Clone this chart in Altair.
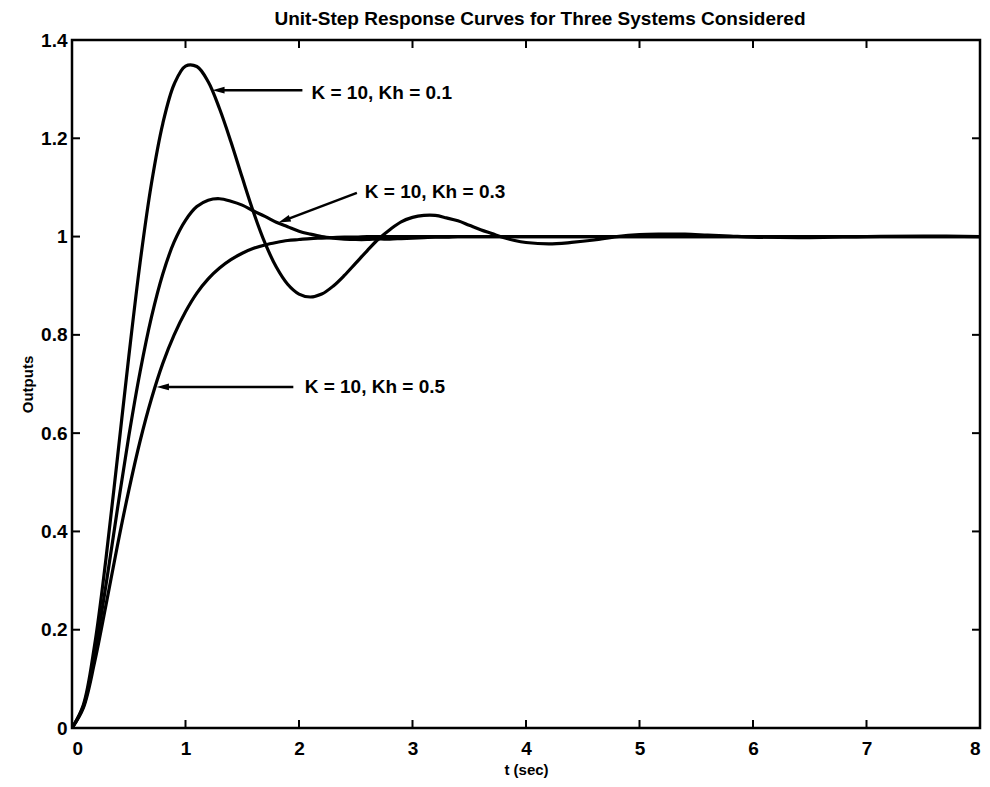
import altair as alt
import pandas as pd

# ---------------- data ----------------
t = [0.0, 0.1, 0.2, 0.3, 0.4, 0.5, 0.6, 0.7, 0.8, 0.9,
     1.0, 1.1, 1.2, 1.3, 1.4, 1.5, 1.6, 1.7, 1.8, 1.9,
     2.0, 2.1, 2.2, 2.3, 2.4, 2.5, 2.6, 2.7, 2.8, 2.9,
     3.0, 3.1, 3.2, 3.3, 3.4, 3.5, 3.6, 3.7, 3.8, 3.9,
     4.0, 4.2, 4.4, 4.6, 4.8, 5.0, 5.2, 5.4, 5.6, 5.8,
     6.0, 6.5, 7.0, 7.5, 8.0]

y_kh01 = [0.000, 0.047, 0.170, 0.346, 0.549, 0.755, 0.947, 1.108, 1.230, 1.310,
          1.347, 1.346, 1.315, 1.260, 1.193, 1.120, 1.049, 0.987, 0.938, 0.903,
          0.883, 0.877, 0.883, 0.899, 0.921, 0.946, 0.971, 0.995, 1.014, 1.030,
          1.039, 1.043, 1.043, 1.038, 1.032, 1.023, 1.014, 1.006, 0.998, 0.992,
          0.988, 0.985, 0.988, 0.993, 1.000, 1.004, 1.005, 1.005, 1.003, 1.001,
          0.999, 0.998, 1.000, 1.001, 1.000]

y_kh03 = [0.000, 0.044, 0.151, 0.292, 0.445, 0.593, 0.725, 0.836, 0.924, 0.989,
          1.033, 1.061, 1.074, 1.077, 1.072, 1.064, 1.052, 1.041, 1.029, 1.020,
          1.011, 1.005, 1.000, 0.997, 0.995, 0.994, 0.994, 0.995, 0.995, 0.996,
          0.997, 0.998, 0.999, 0.999, 1.000, 1.000, 1.000, 1.000, 1.000, 1.000,
          1.000, 1.000, 1.000, 1.000, 1.000, 1.000, 1.000, 1.000, 1.000, 1.000,
          1.000, 1.000, 1.000, 1.000, 1.000]

y_kh05 = [0.000, 0.041, 0.135, 0.251, 0.371, 0.483, 0.584, 0.670, 0.742, 0.800,
          0.847, 0.885, 0.914, 0.936, 0.953, 0.966, 0.976, 0.983, 0.988, 0.992,
          0.994, 0.996, 0.997, 0.998, 0.999, 0.999, 1.000, 1.000, 1.000, 1.000,
          1.000, 1.000, 1.000, 1.000, 1.000, 1.000, 1.000, 1.000, 1.000, 1.000,
          1.000, 1.000, 1.000, 1.000, 1.000, 1.000, 1.000, 1.000, 1.000, 1.000,
          1.000, 1.000, 1.000, 1.000, 1.000]

series_names = ["Kh = 0.1", "Kh = 0.3", "Kh = 0.5"]

# annotations
ann_text = ["K = 10, Kh = 0.1", "K = 10, Kh = 0.3", "K = 10, Kh = 0.5"]
ann_text_x = [2.11, 2.58, 2.05]
ann_text_y = [1.292, 1.091, 0.694]
arrow_tail_x = [2.03, 2.51, 1.95]
arrow_tail_y = [1.298, 1.089, 0.694]
arrow_head_x = [1.29, 1.87, 0.80]
arrow_head_y = [1.298, 1.033, 0.694]
arrow_angle = [0, 340, 0]

x_tick_vals = [1, 2, 3, 4, 5, 6, 7]
y_tick_vals = [0.2, 0.4, 0.6, 0.8, 1.0, 1.2]
x_label_vals = [0, 1, 2, 3, 4, 5, 6, 7, 8]
y_label_vals = [0, 0.2, 0.4, 0.6, 0.8, 1.0, 1.2, 1.4]

# ---------------- layout ----------------
W, H = 908, 688
FONT = "Liberation Sans"

rows = []
for name, ys in zip(series_names, [y_kh01, y_kh03, y_kh05]):
    for tv, yv in zip(t, ys):
        rows.append({"t": tv, "y": yv, "series": name})
df = pd.DataFrame(rows)

ann = pd.DataFrame({"text": ann_text, "tx": ann_text_x, "ty": ann_text_y,
                    "x1": arrow_tail_x, "y1": arrow_tail_y,
                    "x2": arrow_head_x, "y2": arrow_head_y,
                    "angle": arrow_angle})

xs = alt.Scale(domain=[0, 8], nice=False, zero=False)
ys = alt.Scale(domain=[0, 1.4], nice=False, zero=False)

x_axis = alt.Axis(values=x_label_vals, format="~g", ticks=False, domain=False, grid=False,
                  labelFontSize=19, labelFontWeight="bold", labelPadding=11,
                  labelColor="black", title="t (sec)", titleFontSize=15,
                  titleFontWeight="bold", titlePadding=4, titleColor="black")
y_axis = alt.Axis(values=y_label_vals, format="~g", ticks=False, domain=False, grid=False,
                  labelFontSize=19, labelFontWeight="bold", labelPadding=5,
                  labelColor="black", title="Outputs", titleFontSize=15,
                  titleFontWeight="bold", titlePadding=5, titleColor="black")

lines = alt.Chart(df).mark_line(color="black", strokeWidth=3.2, interpolate="catmull-rom", clip=True).encode(
    x=alt.X("t:Q", scale=xs, axis=x_axis),
    y=alt.Y("y:Q", scale=ys, axis=y_axis),
    detail="series:N",
)

xt = pd.DataFrame({"t": x_tick_vals})
yt = pd.DataFrame({"v": y_tick_vals})

bottom_ticks = alt.Chart(xt).mark_rule(color="black", strokeWidth=2).encode(
    x=alt.X("t:Q", scale=xs), y=alt.value(H), y2=alt.value(H - 8))
top_ticks = alt.Chart(xt).mark_rule(color="black", strokeWidth=2).encode(
    x=alt.X("t:Q", scale=xs), y=alt.value(0), y2=alt.value(8))
left_ticks = alt.Chart(yt).mark_rule(color="black", strokeWidth=2).encode(
    y=alt.Y("v:Q", scale=ys), x=alt.value(0), x2=alt.value(8))
right_ticks = alt.Chart(yt).mark_rule(color="black", strokeWidth=2).encode(
    y=alt.Y("v:Q", scale=ys), x=alt.value(W - 8), x2=alt.value(W))

shafts = alt.Chart(ann).mark_rule(color="black", strokeWidth=2.5).encode(
    x=alt.X("x1:Q", scale=xs), y=alt.Y("y1:Q", scale=ys),
    x2="x2:Q", y2="y2:Q")
heads = alt.Chart(ann).mark_point(shape="M -1 0 L 1 -0.55 L 1 0.55 Z", filled=True,
                                  color="black", opacity=1, size=150).encode(
    x=alt.X("x2:Q", scale=xs), y=alt.Y("y2:Q", scale=ys),
    angle=alt.Angle("angle:Q", scale=None))
labels = alt.Chart(ann).mark_text(align="left", baseline="middle", fontSize=19,
                                  fontWeight="bold", font=FONT, color="black").encode(
    x=alt.X("tx:Q", scale=xs), y=alt.Y("ty:Q", scale=ys), text="text:N")

chart = alt.layer(
    lines, bottom_ticks, top_ticks, left_ticks, right_ticks, shafts, heads, labels
).properties(
    width=W, height=H,
    title=alt.TitleParams("Unit-Step Response Curves for Three Systems Considered",
                          fontSize=19, fontWeight="bold", font=FONT, color="black",
                          anchor="middle", dx=14, offset=2),
    autosize=alt.AutoSizeParams(type="none"),
    padding={"left": 64, "top": 32, "right": 2, "bottom": 51},
    background="white",
).configure(font=FONT).configure_view(stroke="black", strokeWidth=2.5)

chart.save("out.html", embed_options={"renderer": "svg", "actions": False})
